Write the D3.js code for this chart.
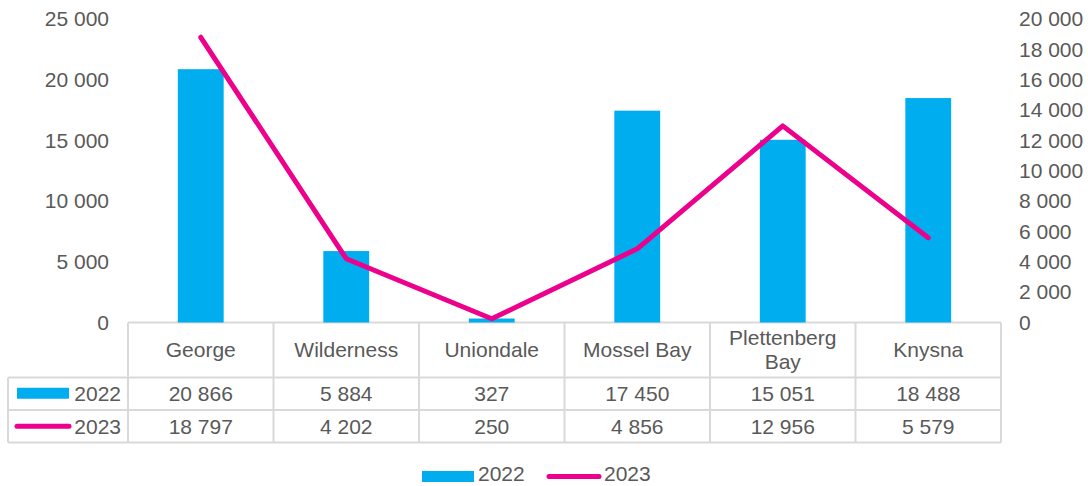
<!DOCTYPE html>
<html>
<head>
<meta charset="utf-8">
<script src="https://cdn.jsdelivr.net/npm/d3@7"></script>
<style>
  html, body { margin: 0; padding: 0; background: #fff; }
  svg { display: block; font-family: "Liberation Sans", Arial, sans-serif; }
</style>
</head>
<body>
<svg id="chart" width="1088" height="486"></svg>
<script>
// Categories and series
const categories = ["George", "Wilderness", "Uniondale", "Mossel Bay", "Plettenberg Bay", "Knysna"];
const categoryLines = [["George"], ["Wilderness"], ["Uniondale"], ["Mossel Bay"], ["Plettenberg", "Bay"], ["Knysna"]];
const values2022 = [20866, 5884, 327, 17450, 15051, 18488];
const values2023 = [18797, 4202, 250, 4856, 12956, 5579];
const seriesNames = ["2022", "2023"];
const leftTicks = [0, 5000, 10000, 15000, 20000, 25000];
const rightTicks = [0, 2000, 4000, 6000, 8000, 10000, 12000, 14000, 16000, 18000, 20000];

const BAR = "#00AEEF", LINE = "#EC008C", TEXT = "#595959", GRID = "#D9D9D9";
const FS = 21;

const fmt = d3.formatLocale({ decimal: ",", thousands: "\u00a0", grouping: [3], currency: ["", ""] }).format(",d");

const svg = d3.select("#chart");

const plotLeft = 128, plotRight = 1001, plotTop = 19, plotBottom = 322.5;
const x = d3.scaleBand().domain(categories).range([plotLeft, plotRight]);
const yL = d3.scaleLinear().domain([0, 25000]).range([plotBottom, plotTop]);
const yR = d3.scaleLinear().domain([0, 20000]).range([plotBottom, plotTop]);
const bw = x.bandwidth();
const barW = bw * 0.315;

// Left axis labels
const leftAxis = svg.append("g").attr("transform", `translate(${plotLeft - 19},0)`)
  .call(d3.axisLeft(yL).tickValues(leftTicks).tickFormat(fmt).tickSize(0).tickPadding(0));
leftAxis.select(".domain").remove();
leftAxis.selectAll("text").attr("fill", TEXT).style("font-size", FS + "px").style("font-family", "Liberation Sans, Arial, sans-serif");

// Right axis labels
const rightAxis = svg.append("g").attr("transform", `translate(${plotRight + 18},0)`)
  .call(d3.axisRight(yR).tickValues(rightTicks).tickFormat(fmt).tickSize(0).tickPadding(0));
rightAxis.select(".domain").remove();
rightAxis.selectAll("text").attr("fill", TEXT).style("font-size", FS + "px").style("font-family", "Liberation Sans, Arial, sans-serif");

// Data table grid
const tTop = plotBottom, tHead = 377.5, tRow1 = 410, tBottom = 442.5, tLeft = 8;
const grid = svg.append("g").attr("stroke", GRID).attr("stroke-width", 2).attr("fill", "none");
grid.append("line").attr("x1", plotLeft).attr("x2", plotRight).attr("y1", tTop).attr("y2", tTop);
[tHead, tRow1, tBottom].forEach(yy =>
  grid.append("line").attr("x1", tLeft).attr("x2", plotRight).attr("y1", yy).attr("y2", yy));
grid.append("line").attr("x1", tLeft).attr("x2", tLeft).attr("y1", tHead).attr("y2", tBottom);
categories.forEach(c =>
  grid.append("line").attr("x1", x(c)).attr("x2", x(c)).attr("y1", tTop).attr("y2", tBottom));
grid.append("line").attr("x1", plotRight).attr("x2", plotRight).attr("y1", tTop).attr("y2", tBottom);

// Bars (2022, left axis)
svg.append("g").selectAll("rect").data(categories).join("rect")
  .attr("x", c => x(c) + (bw - barW) / 2)
  .attr("width", barW)
  .attr("y", (c, i) => yL(values2022[i]))
  .attr("height", (c, i) => yL(0) - yL(values2022[i]))
  .attr("fill", BAR);

// Line (2023, right axis)
const line = d3.line().x(d => x(d.c) + bw / 2).y(d => yR(d.v));
svg.append("path")
  .datum(categories.map((c, i) => ({ c, v: values2023[i] })))
  .attr("d", line)
  .attr("fill", "none").attr("stroke", LINE).attr("stroke-width", 5)
  .attr("stroke-linejoin", "round").attr("stroke-linecap", "round");

// Table text
const txt = svg.append("g").attr("fill", TEXT).style("font-size", FS + "px").attr("text-anchor", "middle");
categoryLines.forEach((lines, i) => {
  const cx = x(categories[i]) + bw / 2;
  const lh = 24;
  const midY = (tTop + tHead) / 2;
  lines.forEach((ln, j) => {
    txt.append("text").attr("x", cx)
      .attr("y", midY + (j - (lines.length - 1) / 2) * lh)
      .attr("dy", "0.35em").text(ln);
  });
  txt.append("text").attr("x", cx).attr("y", (tHead + tRow1) / 2).attr("dy", "0.35em").text(fmt(values2022[i]));
  txt.append("text").attr("x", cx).attr("y", (tRow1 + tBottom) / 2).attr("dy", "0.35em").text(fmt(values2023[i]));
});

// Legend keys in the table
const r1 = (tHead + tRow1) / 2, r2 = (tRow1 + tBottom) / 2;
svg.append("rect").attr("x", 17).attr("y", r1 - 6).attr("width", 52).attr("height", 11).attr("fill", BAR);
svg.append("line").attr("x1", 17).attr("x2", 69).attr("y1", r2).attr("y2", r2)
  .attr("stroke", LINE).attr("stroke-width", 5).attr("stroke-linecap", "round");
svg.append("g").attr("fill", TEXT).style("font-size", FS + "px").attr("text-anchor", "end")
  .selectAll("text").data(seriesNames).join("text")
  .attr("x", 121).attr("y", (d, i) => i ? r2 : r1).attr("dy", "0.35em").text(d => d);

// Bottom legend
const ly = 476.5, lty = 474;
svg.append("rect").attr("x", 422).attr("y", ly - 5.5).attr("width", 52).attr("height", 11).attr("fill", BAR);
svg.append("text").attr("x", 478).attr("y", lty).attr("dy", "0.35em").attr("fill", TEXT).style("font-size", FS + "px").text(seriesNames[0]);
svg.append("line").attr("x1", 549).attr("x2", 599).attr("y1", ly).attr("y2", ly)
  .attr("stroke", LINE).attr("stroke-width", 5).attr("stroke-linecap", "round");
svg.append("text").attr("x", 604).attr("y", lty).attr("dy", "0.35em").attr("fill", TEXT).style("font-size", FS + "px").text(seriesNames[1]);
</script>
</body>
</html>
